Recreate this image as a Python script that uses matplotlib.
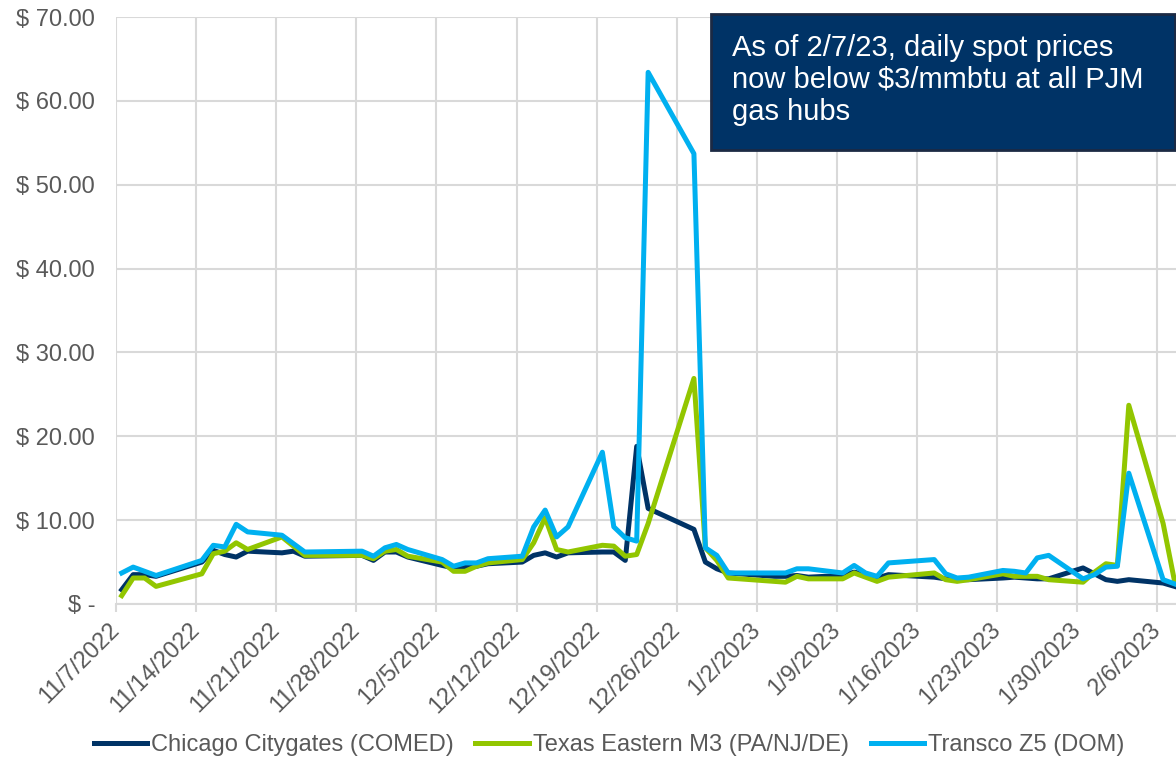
import pandas as pd
import matplotlib
matplotlib.use('Agg')
import matplotlib.pyplot as plt
from matplotlib.patches import Rectangle
from matplotlib.ticker import FuncFormatter
from matplotlib.transforms import ScaledTranslation

plt.rcParams['font.family'] = ['Liberation Sans', 'DejaVu Sans']

# daily spot prices ($/mmbtu)
dates = ['2022-11-07', '2022-11-08', '2022-11-09', '2022-11-10', '2022-11-14', '2022-11-15',
         '2022-11-16', '2022-11-17', '2022-11-18', '2022-11-21', '2022-11-22', '2022-11-23',
         '2022-11-28', '2022-11-29', '2022-11-30', '2022-12-01', '2022-12-02', '2022-12-05',
         '2022-12-06', '2022-12-07', '2022-12-08', '2022-12-09', '2022-12-12', '2022-12-13',
         '2022-12-14', '2022-12-15', '2022-12-16', '2022-12-19', '2022-12-20', '2022-12-21',
         '2022-12-22', '2022-12-23', '2022-12-27', '2022-12-28', '2022-12-29', '2022-12-30',
         '2023-01-03', '2023-01-04', '2023-01-05', '2023-01-06', '2023-01-09', '2023-01-10',
         '2023-01-11', '2023-01-12', '2023-01-13', '2023-01-17', '2023-01-18', '2023-01-19',
         '2023-01-20', '2023-01-23', '2023-01-24', '2023-01-25', '2023-01-26', '2023-01-27',
         '2023-01-30', '2023-01-31', '2023-02-01', '2023-02-02', '2023-02-03', '2023-02-06',
         '2023-02-07']

chicago = [1.7, 3.5, 3.5, 3.3, 5.0, 6.4, 5.9, 5.6, 6.3, 6.1, 6.3, 5.7,
           5.8, 5.2, 6.2, 6.2, 5.6, 4.6, 4.3, 4.4, 4.5, 4.8, 5.0, 5.8,
           6.1, 5.6, 6.1, 6.2, 6.2, 5.2, 18.8, 11.4, 8.9, 5.0, 4.2, 3.7,
           3.3, 3.3, 3.4, 3.2, 3.4, 3.8, 3.5, 3.1, 3.5, 3.2, 3.0, 2.9,
           2.9, 3.1, 3.2, 3.1, 3.0, 3.0, 4.3, 3.6, 2.9, 2.7, 2.9, 2.5,
           2.1]

tetco_m3 = [1.0, 3.1, 3.1, 2.1, 3.6, 6.0, 6.3, 7.3, 6.5, 8.0, 6.9, 5.8,
            5.8, 5.4, 6.3, 6.5, 5.7, 5.0, 3.9, 3.9, 4.5, 4.9, 5.3, 7.3,
            10.3, 6.5, 6.2, 7.0, 6.9, 5.7, 5.9, 9.6, 26.9, 6.7, 5.2, 3.1,
            2.7, 2.6, 3.3, 3.0, 3.0, 3.7, 3.2, 2.7, 3.2, 3.7, 2.9, 2.7,
            2.9, 3.6, 3.3, 3.3, 3.3, 2.9, 2.6, 3.8, 4.8, 4.6, 23.7, 9.6,
            2.7]

transco_z5 = [3.7, 4.4, 3.9, 3.4, 5.2, 7.0, 6.8, 9.5, 8.6, 8.2, 7.2, 6.2,
              6.3, 5.7, 6.7, 7.1, 6.5, 5.3, 4.5, 4.9, 4.9, 5.4, 5.7, 9.2,
              11.2, 8.0, 9.2, 18.1, 9.2, 7.9, 7.5, 63.4, 53.7, 6.7, 5.8, 3.7,
              3.7, 3.7, 4.2, 4.2, 3.7, 4.6, 3.7, 3.3, 4.9, 5.3, 3.6, 3.1,
              3.2, 4.0, 3.9, 3.7, 5.5, 5.8, 3.0, 3.5, 4.4, 4.5, 15.6, 2.9,
              2.4]

series_names = ['Chicago Citygates (COMED)', 'Texas Eastern M3 (PA/NJ/DE)', 'Transco Z5 (DOM)']
series_colors = ['#003366', '#92C600', '#00B0F0']

tick_dates = pd.date_range('2022-11-07', '2023-02-06', freq='7D')
tick_labels = [f'{d.month}/{d.day}/{d.year}' for d in tick_dates]

note = 'As of 2/7/23, daily spot prices\nnow below $3/mmbtu at all PJM\ngas hubs'

grey = '#595959'
# excel draws each point in the middle of its day
x = pd.to_datetime(dates) + pd.Timedelta(hours=12)

fig = plt.figure(figsize=(11.76, 7.6), dpi=100)
ax = fig.add_axes([116 / 1176, 1 - 604 / 760, 1 - 116 / 1176, (604 - 17) / 760])

for vals, name, col in zip([chicago, tetco_m3, transco_z5], series_names, series_colors):
    ax.plot(x, vals, color=col, linewidth=3.6, label=name)

ax.set_ylim(0, 70)
ax.set_yticks(range(0, 71, 10))
ax.yaxis.set_major_formatter(FuncFormatter(lambda v, p: '$ -' if v == 0 else f'$ {v:.2f}'))

ax.set_xlim(pd.Timestamp('2022-11-07'), pd.Timestamp('2023-02-07 15:00'))
ax.set_xticks(tick_dates)
ax.set_xticklabels(tick_labels, rotation=45, ha='right', va='center', rotation_mode='anchor')
# nudge date labels right, like excel does
shift = ScaledTranslation(12 / 100, 0, fig.dpi_scale_trans)
for lab in ax.get_xticklabels():
    lab.set_transform(lab.get_transform() + shift)

ax.grid(True, color='#D9D9D9', linewidth=1.5)
ax.set_axisbelow(True)
for s in ['top', 'right', 'left']:
    ax.spines[s].set_visible(False)
ax.spines['bottom'].set_color('#D9D9D9')
ax.spines['bottom'].set_linewidth(1.5)
ax.tick_params(axis='y', length=0, pad=15, labelsize=17, labelcolor=grey)
ax.tick_params(axis='x', length=6, width=1.5, color='#D9D9D9', pad=10, labelsize=17, labelcolor=grey)

# note box top right
fig.patches.append(Rectangle((711 / 1176, 1 - 150 / 760), 464 / 1176, 136 / 760,
                             transform=fig.transFigure, facecolor='#003366',
                             edgecolor='#1C2A44', linewidth=2, zorder=5))
fig.text(732 / 1176, 1 - 80 / 760, note, color='white', fontsize=21,
         va='center', ha='left', linespacing=1.2, zorder=6)

fig.legend(loc='center', bbox_to_anchor=(0.518, 0.02), ncol=3, frameon=False,
           fontsize=17, labelcolor=grey, handlelength=2.25, handletextpad=0.2,
           columnspacing=0.9)

fig.savefig('out.png', dpi=100)
